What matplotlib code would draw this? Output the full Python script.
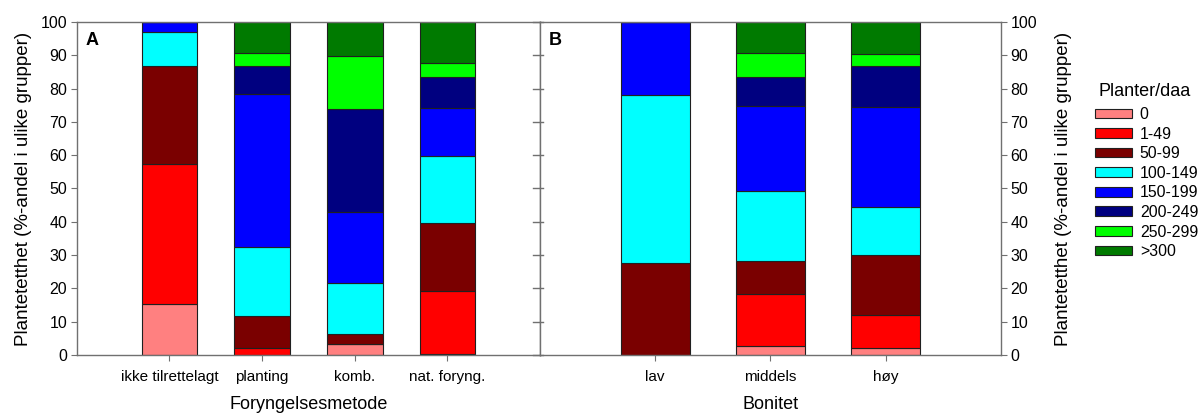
import matplotlib
matplotlib.use("Agg")
import matplotlib.pyplot as plt
from matplotlib.patches import Patch
import numpy as np

plt.rcParams['font.family'] = ['Liberation Sans', 'DejaVu Sans']

# Density classes (plants per decare) and their fill colours
classes = ["0", "1-49", "50-99", "100-149", "150-199", "200-249", "250-299", ">300"]
colors = ["#FF8080", "#FF0000", "#7A0000", "#00FFFF", "#0000FF", "#000080", "#00FF00", "#007A00"]

# Panel A: regeneration method
methods = ["ikke tilrettelagt", "planting", "komb.", "nat. foryng."]
share_0 = [15.3, 0.0, 3.3, 0.3]
share_1_49 = [42.1, 2.0, 0.0, 19.0]
share_50_99 = [29.4, 9.7, 3.0, 20.2]
share_100_149 = [10.2, 20.8, 15.2, 20.4]
share_150_199 = [3.0, 46.0, 21.5, 14.2]
share_200_249 = [0.0, 8.2, 30.8, 9.5]
share_250_299 = [0.0, 4.1, 16.0, 4.2]
share_300 = [0.0, 9.2, 10.2, 12.2]

# Panel B: site index
sites = ["lav", "middels", "høy"]
site_0 = [0.0, 2.7, 2.1]
site_1_49 = [0.0, 15.5, 9.9]
site_50_99 = [27.5, 10.0, 18.0]
site_100_149 = [50.6, 21.0, 14.4]
site_150_199 = [21.9, 25.7, 30.1]
site_200_249 = [0.0, 8.7, 12.4]
site_250_299 = [0.0, 7.1, 3.4]
site_300 = [0.0, 9.3, 9.7]

panel_a = [share_0, share_1_49, share_50_99, share_100_149,
           share_150_199, share_200_249, share_250_299, share_300]
panel_b = [site_0, site_1_49, site_50_99, site_100_149,
           site_150_199, site_200_249, site_250_299, site_300]

fig = plt.figure(figsize=(12, 4.15), dpi=100)
ax_a = fig.add_axes([0.064, 0.1446, 0.386, 0.8024])
ax_b = fig.add_axes([0.450, 0.1446, 0.384, 0.8024])

spine_col = "#707070"
ylabel = "Plantetetthet (%-andel i ulike grupper)"


def stacked(ax, cats, layers):
    x = np.arange(len(cats))
    bottom = np.zeros(len(cats))
    for vals, col in zip(layers, colors):
        vals = np.asarray(vals, dtype=float)
        ax.bar(x, vals, width=0.6, bottom=bottom, color=col,
               edgecolor="#202020", linewidth=0.8)
        bottom += vals
    ax.set_xticks(x)
    ax.set_xticklabels(cats, fontsize=11)
    ax.set_ylim(0, 100)
    ax.set_yticks(np.arange(0, 101, 10))
    for s in ax.spines.values():
        s.set_color(spine_col)
        s.set_linewidth(1.0)
    ax.tick_params(axis="x", direction="out", length=4, color=spine_col, pad=7)


stacked(ax_a, methods, panel_a)
ax_a.set_xlim(-1, 4)
ax_a.tick_params(axis="y", which="both", left=True, right=False, labelleft=True,
                 labelright=False, direction="out", length=4, color=spine_col,
                 labelsize=11.5, pad=3)
ax_a.set_ylabel(ylabel, fontsize=13.5, labelpad=6)
ax_a.text(0.018, 0.97, "A", transform=ax_a.transAxes, fontsize=13,
          fontweight="bold", va="top", ha="left")

stacked(ax_b, sites, panel_b)
ax_b.set_xlim(-1, 3)
ax_b.yaxis.set_label_position("right")
ax_b.yaxis.tick_right()
ax_b.tick_params(axis="y", which="both", left=False, right=True, labelleft=False,
                 labelright=True, direction="out", length=4, color=spine_col,
                 labelsize=11.5, pad=3)
ax_b.set_ylabel(ylabel, fontsize=13.5, labelpad=13)
ax_b.text(0.018, 0.97, "B", transform=ax_b.transAxes, fontsize=13,
          fontweight="bold", va="top", ha="left")

# axis titles kept inside the bottom edge of the figure
fig.text(0.257, 0.004, "Foryngelsesmetode", fontsize=13, ha="center", va="bottom")
fig.text(0.642, 0.004, "Bonitet", fontsize=13, ha="center", va="bottom")

# inner spines carry inward ticks
for y in range(0, 101, 10):
    ax_a.plot([3.92, 4.0], [y, y], color=spine_col, lw=1.0, clip_on=False)
    ax_b.plot([-1.0, -0.97], [y, y], color=spine_col, lw=1.0, clip_on=False)

# legend of density classes with its heading
fig.text(0.915, 1 - 92 / 415, "Planter/daa", fontsize=13, ha="left", va="center")
handles = [Patch(facecolor=c, edgecolor="#202020", linewidth=0.8) for c in colors]
leg = fig.legend(handles, classes, loc="upper left",
                 bbox_to_anchor=(0.9125, 1 - 107 / 415), frameon=False, fontsize=11.4,
                 handlelength=2.33, handleheight=0.57,
                 labelspacing=0.29, handletextpad=0.5, borderaxespad=0,
                 borderpad=0)

fig.savefig("out.png", dpi=100)
